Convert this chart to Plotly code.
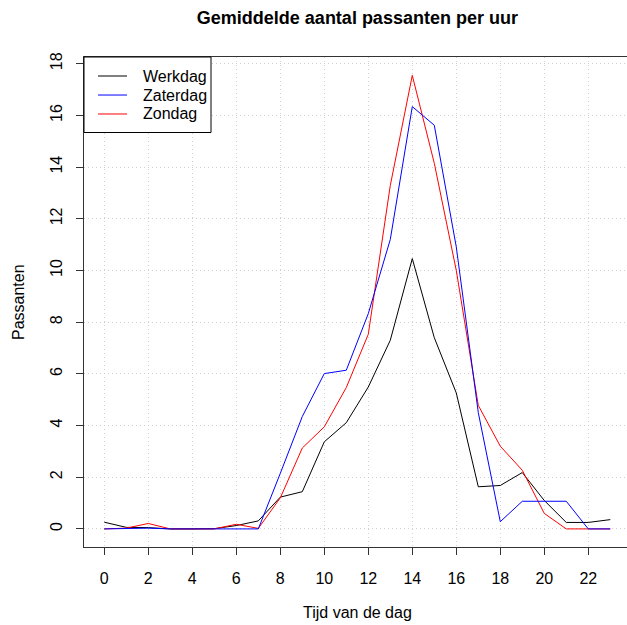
import plotly.graph_objects as go

# Average number of passers-by per hour of the day
uren = list(range(24))
werkdag = [0.26, 0.06, 0.05, 0.0, 0.0, 0.01, 0.13, 0.31, 1.23, 1.44, 3.37, 4.11,
           5.49, 7.30, 10.46, 7.40, 5.26, 1.63, 1.68, 2.18, 1.10, 0.25, 0.25, 0.36]
zaterdag = [0.0, 0.02, 0.03, 0.0, 0.0, 0.0, 0.0, 0.0, 2.15, 4.35, 6.01, 6.14,
            8.33, 11.20, 16.34, 15.62, 10.91, 4.50, 0.28, 1.07, 1.07, 1.07, 0.0, 0.0]
zondag = [0.0, 0.03, 0.21, 0.0, 0.0, 0.0, 0.18, 0.02, 1.20, 3.13, 3.95, 5.47,
          7.53, 13.29, 17.55, 14.15, 10.00, 4.78, 3.20, 2.27, 0.60, 0.0, 0.0, 0.0]

reeksen = ["Werkdag", "Zaterdag", "Zondag"]
kleuren = ["black", "#0000ff", "#ff0000"]

x_ticks = list(range(0, 23, 2))
y_ticks = list(range(0, 19, 2))

FONT = "Liberation Sans, Arial, Helvetica, sans-serif"

fig = go.Figure()
# drawing order: weekdays first, then Sunday, Saturday on top
for naam, waarden, kleur in [("Werkdag", werkdag, kleuren[0]),
                             ("Zondag", zondag, kleuren[2]),
                             ("Zaterdag", zaterdag, kleuren[1])]:
    fig.add_trace(go.Scatter(x=uren, y=waarden, mode="lines", name=naam,
                             line=dict(color=kleur, width=1), showlegend=False))

axis_common = dict(
    showline=True, mirror=True, linecolor="#333333", linewidth=1,
    ticks="outside", ticklen=7, tickcolor="#333333", tickwidth=1,
    showgrid=True, gridcolor="#cfcfcf", griddash="1px,3px", gridwidth=1,
    zeroline=False, tickfont=dict(family=FONT, size=16, color="black"),
)

fig.update_xaxes(range=[-0.923, 23.76], tickvals=x_ticks, ticklabelstandoff=10,
                 **axis_common)
fig.update_yaxes(range=[-0.70, 18.26], tickvals=y_ticks, tickangle=-90,
                 ticklabelstandoff=8, **axis_common)

# legend box in the top-left corner of the plot area
shapes = [dict(type="rect", xref="paper", yref="paper",
               x0=0, x1=0.2339, y0=0.8459, y1=1.0,
               line=dict(color="black", width=1), fillcolor="white", layer="above")]
annotations = []
rij_y = [0.9612, 0.9224, 0.8837]
for naam, kleur, yy in zip(reeksen, kleuren, rij_y):
    shapes.append(dict(type="line", xref="paper", yref="paper",
                       x0=0.0258, x1=0.0792, y0=yy, y1=yy,
                       line=dict(color=kleur, width=1), layer="above"))
    annotations.append(dict(text=naam, xref="paper", yref="paper",
                            x=0.105, y=yy, xanchor="left", yanchor="middle",
                            showarrow=False,
                            font=dict(family=FONT, size=16, color="black")))

annotations += [
    dict(text="Tijd van de dag", xref="paper", yref="paper",
         x=0.503, y=-0.1327, xanchor="center", yanchor="middle",
         showarrow=False, font=dict(family=FONT, size=16, color="black")),
    dict(text="Passanten", xref="paper", yref="paper",
         x=-0.1215, y=0.5, xanchor="center", yanchor="middle",
         textangle=-90, showarrow=False,
         font=dict(family=FONT, size=16, color="black")),
]

fig.update_layout(
    width=627, height=625,
    margin=dict(l=84, r=0, t=57, b=78),
    paper_bgcolor="white", plot_bgcolor="white",
    font=dict(family=FONT, size=16, color="black"),
    showlegend=False,
    title=dict(text="<b>Gemiddelde aantal passanten per uur</b>",
               xref="container", x=0.570, xanchor="center",
               yref="container", y=0.971, yanchor="middle",
               font=dict(family=FONT, size=18, color="black")),
    shapes=shapes,
    annotations=annotations,
)

fig.write_html("out.html")
